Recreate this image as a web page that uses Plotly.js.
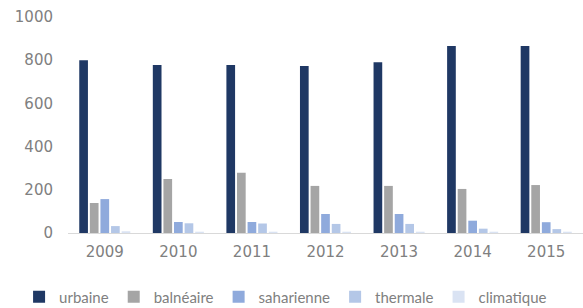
<!DOCTYPE html>
<html><head><meta charset="utf-8">
<script src="https://cdn.plot.ly/plotly-3.0.1.min.js"></script>
<style>body{margin:0;background:#fff}#c{width:583px;height:308px}</style>
</head><body><div id="c"></div>
<script>
const years = ["2009","2010","2011","2012","2013","2014","2015"];
const urbaine = [800, 778, 778, 773, 790, 866, 866];
const balneaire = [139, 250, 279, 218, 218, 204, 222];
const saharienne = [157, 51, 51, 88, 88, 57, 50];
const thermale = [32, 45, 44, 42, 42, 20, 18];
const climatique = [8, 6, 6, 6, 6, 6, 6];
const names = ["urbaine","balnéaire","saharienne","thermale","climatique"];
const colors = ["#1f3864","#a5a5a5","#8faadc","#b4c7e7","#dae3f3"];
const series = [urbaine, balneaire, saharienne, thermale, climatique];
const data = series.map((s,i)=>({type:"bar", x:years, y:s, name:names[i], marker:{color:colors[i]}}));
Plotly.newPlot("c", data, {
  width:583, height:308,
  margin:{l:68, r:0, t:17, b:75, autoexpand:false},
  paper_bgcolor:"#fff", plot_bgcolor:"#fff",
  font:{family:"'DejaVu Sans', sans-serif", color:"#7f7f7f", size:15},
  barmode:"group", bargap:0.28, bargroupgap:0.18,
  xaxis:{showgrid:false, showline:true, linecolor:"#d9d9d9", ticks:"", ticklabelstandoff:5, tickfont:{family:"'DejaVu Sans', sans-serif", size:15, color:"#808080"}},
  yaxis:{range:[0,1000], dtick:200, showgrid:false, zeroline:false, ticks:"", ticklabelstandoff:14, tickfont:{family:"'DejaVu Sans', sans-serif", size:15, color:"#808080"}},
  legend:{orientation:"h", x:-0.095, xanchor:"left", y:-0.296, yanchor:"middle", font:{family:"Lato, sans-serif", size:15, color:"#808080"}, itemwidth:30, tracegroupgap:0},
  showlegend:true
}, {displayModeBar:false, staticPlot:true});
</script></body></html>
